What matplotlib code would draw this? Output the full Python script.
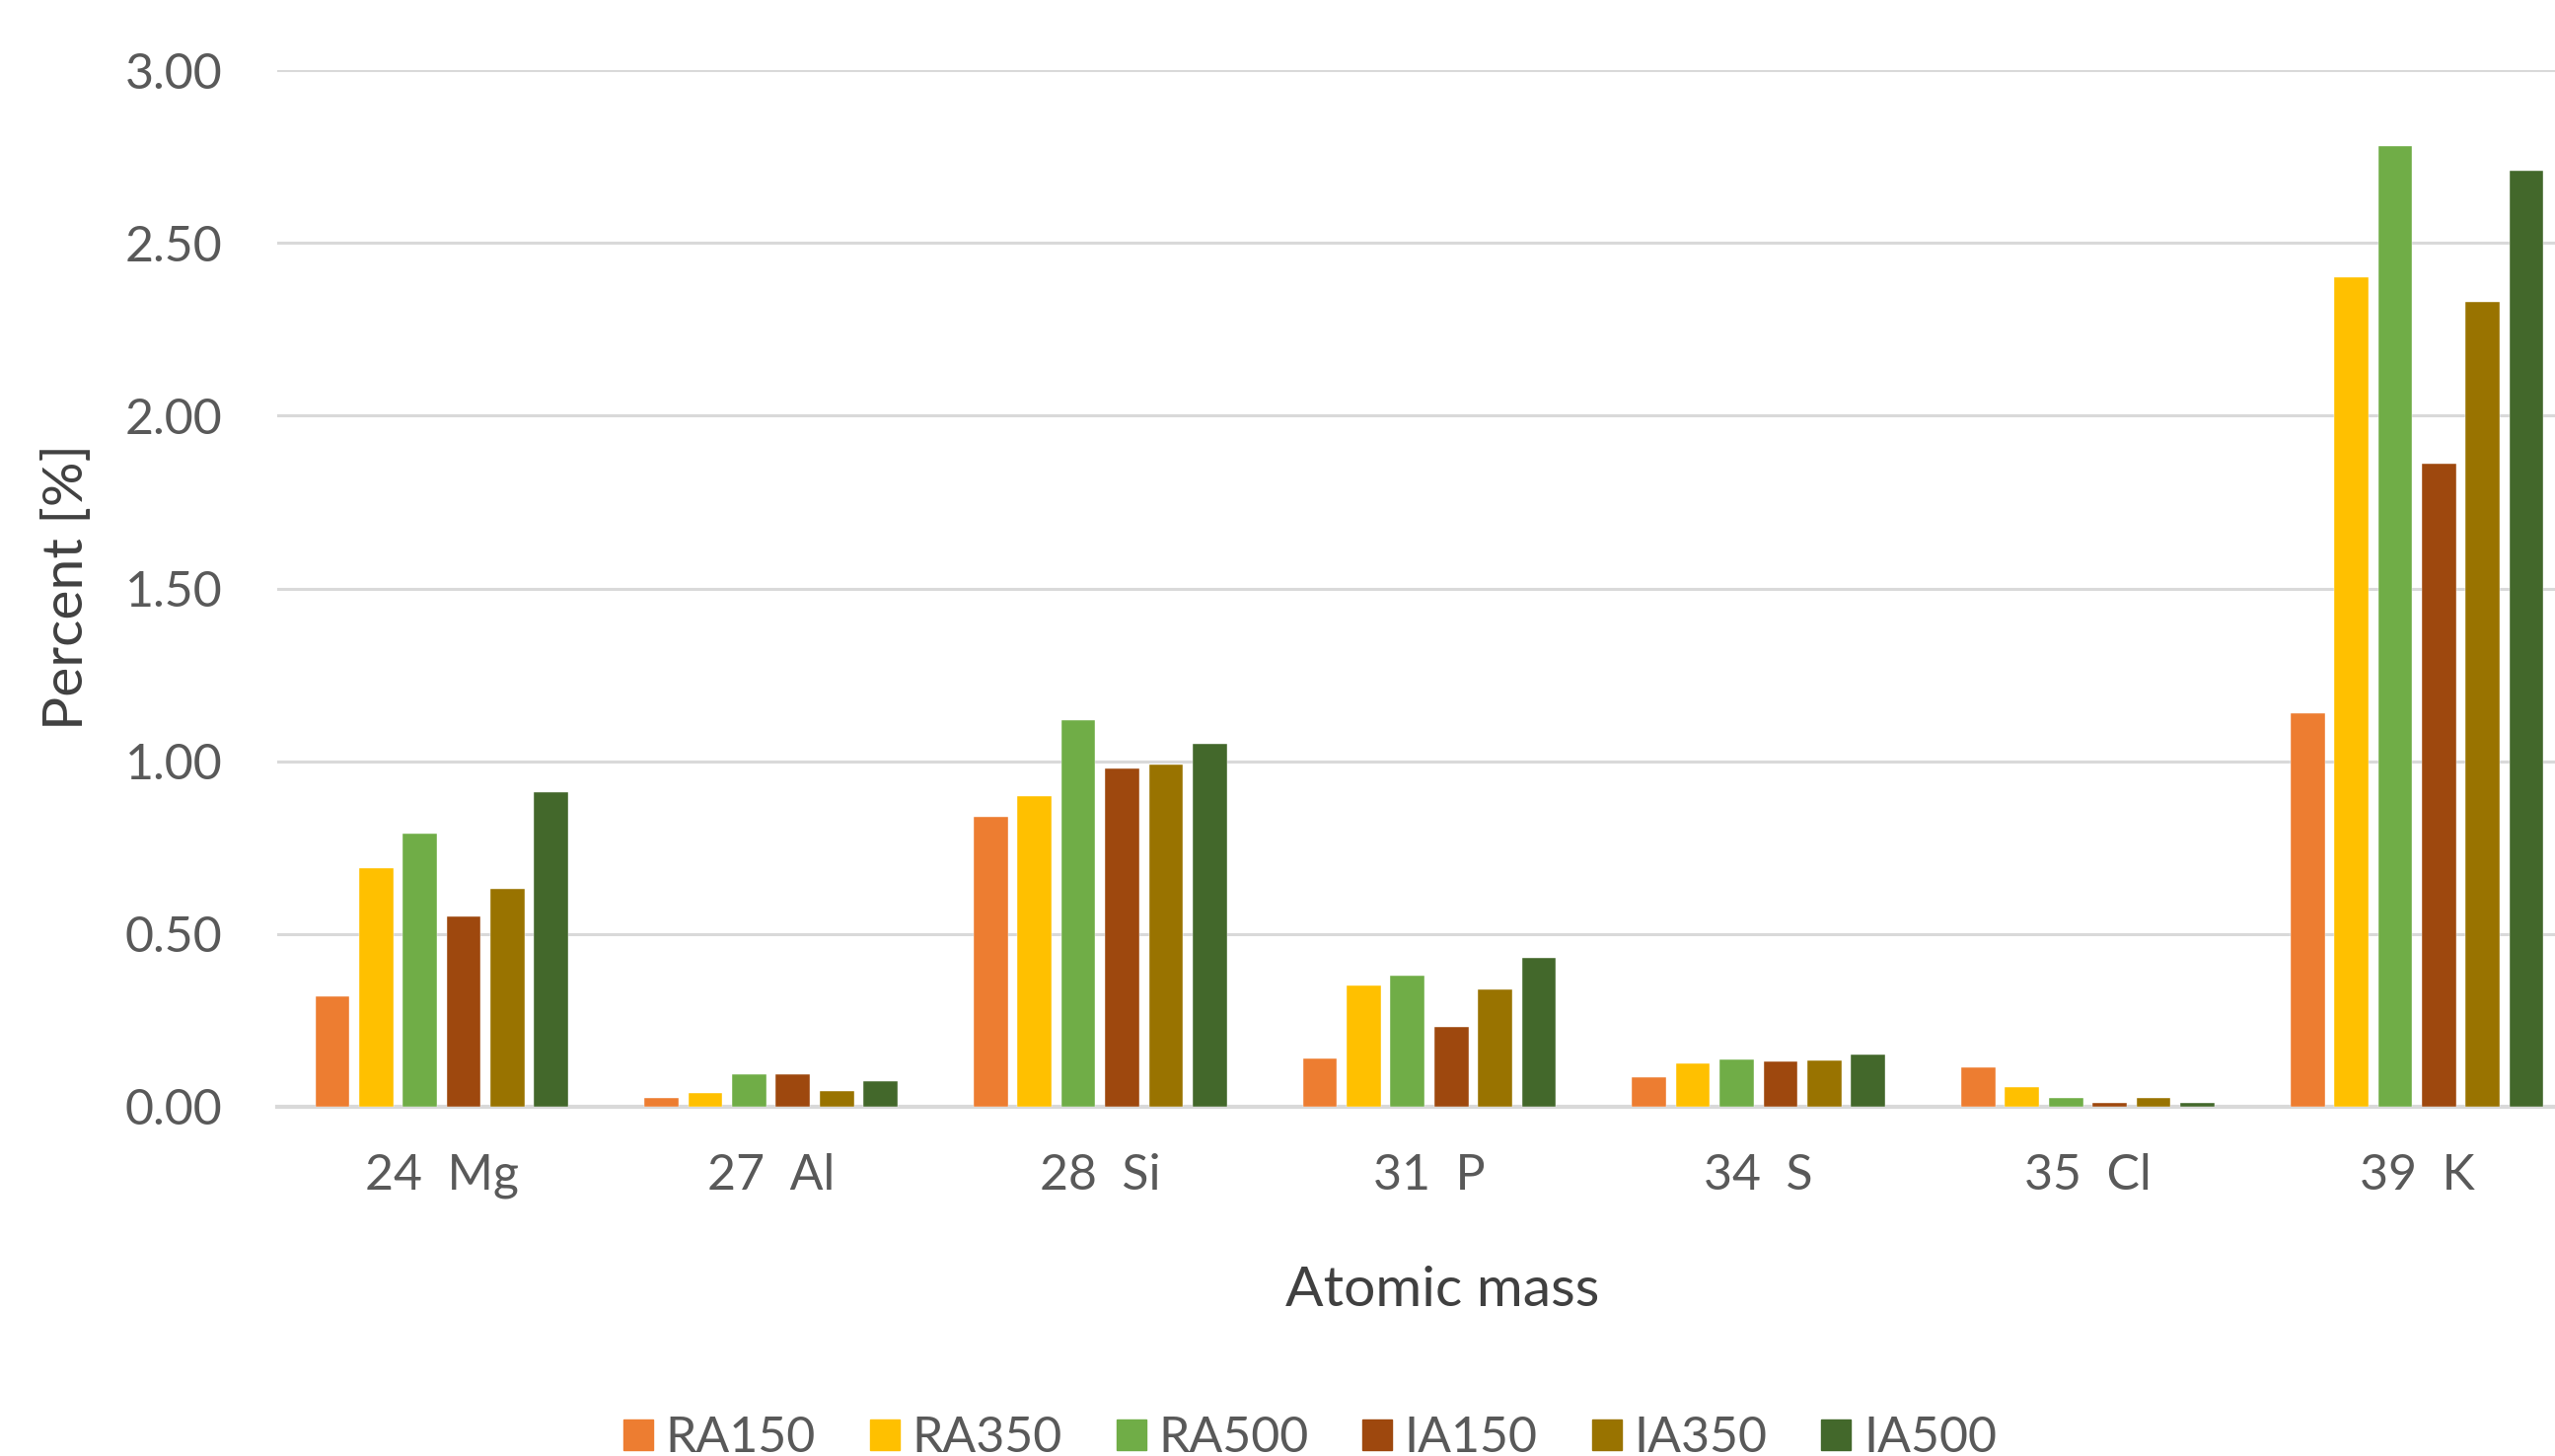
import matplotlib
matplotlib.use("Agg")
import matplotlib.pyplot as plt
import matplotlib.patches as mpatches
import numpy as np

# data
elements = ["24  Mg", "27  Al", "28  Si", "31  P", "34  S", "35  Cl", "39  K"]
series_names = ["RA150", "RA350", "RA500", "IA150", "IA350", "IA500"]
RA150 = [0.32, 0.025, 0.84, 0.14, 0.085, 0.113, 1.14]
RA350 = [0.69, 0.041, 0.90, 0.35, 0.125, 0.056, 2.40]
RA500 = [0.79, 0.093, 1.12, 0.38, 0.137, 0.025, 2.78]
IA150 = [0.55, 0.093, 0.98, 0.23, 0.130, 0.010, 1.86]
IA350 = [0.63, 0.045, 0.99, 0.34, 0.133, 0.025, 2.33]
IA500 = [0.91, 0.073, 1.05, 0.43, 0.150, 0.010, 2.71]
yticks = [0.0, 0.5, 1.0, 1.5, 2.0, 2.5, 3.0]

colors = ["#ED7D31", "#FFC000", "#70AD47", "#9E480E", "#997300", "#43682B"]
TEXT = "#595959"
TITLE = "#404040"
GRID = "#D9D9D9"

plt.rcParams.update({
    "font.family": ["Lato", "DejaVu Sans"],
    "text.color": TEXT,
    "xtick.color": TEXT,
    "ytick.color": TEXT,
})

W, H = 2590, 1476
fig = plt.figure(figsize=(W / 100, H / 100), dpi=100)
fig.patch.set_facecolor("white")

# axes runs slightly past the right edge, like the cropped original
left, right = 281 / W, 2617 / W
bottom, top = 1 - 1122 / H, 1 - 71 / H
ax = fig.add_axes([left, bottom, right - left, top - bottom])

x = np.arange(len(elements))
step = 0.133
width = 0.104
all_series = [RA150, RA350, RA500, IA150, IA350, IA500]
for i, (vals, c) in enumerate(zip(all_series, colors)):
    offs = (i - 2.5) * step
    ax.bar(x + offs, vals, width, color=c, edgecolor="white",
           linewidth=0.3, zorder=3)

ax.set_xlim(-0.5, len(elements) - 0.5)
ax.set_ylim(0, 3.0)
ax.set_yticks(yticks)
ax.set_yticklabels([f"{v:.2f}" for v in yticks])
ax.set_xticks(x)
ax.set_xticklabels(elements)
ax.tick_params(axis="y", length=0, pad=40, labelsize=36)
ax.tick_params(axis="x", length=0, pad=34, labelsize=36)

ax.grid(axis="y", color=GRID, linewidth=2.2, zorder=0)
for s in ["top", "right", "left"]:
    ax.spines[s].set_visible(False)
ax.spines["bottom"].set_color(GRID)
ax.spines["bottom"].set_linewidth(3)
ax.spines["bottom"].set_zorder(2)

fig.text(69 / W, 1 - 595 / H, "Percent [%]", rotation=90,
         ha="center", va="center", fontsize=41, color=TITLE)
fig.text(1462 / W, 1 - 1308 / H, "Atomic mass",
         ha="center", va="center", fontsize=41, color=TITLE)

handles = [mpatches.Patch(color=c, label=n) for c, n in zip(colors, series_names)]
fig.legend(handles=handles, loc="center", ncol=6,
           bbox_to_anchor=(1328 / W, 1 - 1458 / H), frameon=False,
           fontsize=36, handlelength=0.6, handleheight=0.6,
           handletextpad=0.25, columnspacing=1.1)

fig.savefig("out.png", dpi=100, facecolor="white")
